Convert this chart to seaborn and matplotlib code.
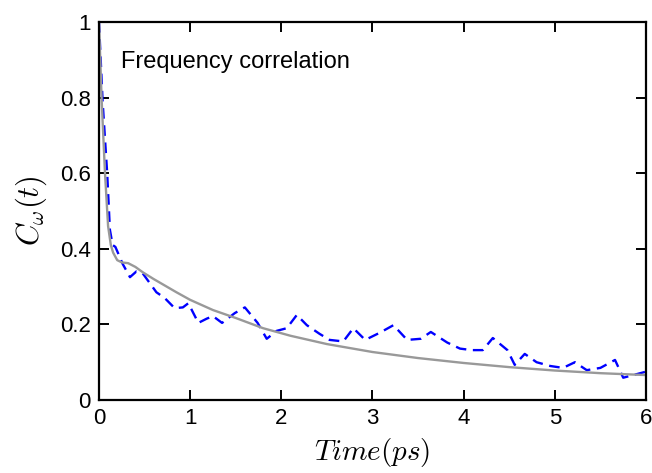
import pandas as pd
import matplotlib
matplotlib.use("Agg")
import matplotlib.pyplot as plt
import seaborn as sns

# ========== data ==========
# simulated frequency correlation (blue dashed)
sim_time = [0.0, 0.04, 0.09, 0.12, 0.15, 0.18, 0.26, 0.34, 0.41, 0.48,
            0.63, 0.72, 0.83, 0.92, 0.98, 1.09, 1.18, 1.25, 1.35, 1.49,
            1.6, 1.74, 1.84, 1.95, 2.06, 2.17, 2.28, 2.42, 2.53, 2.68,
            2.79, 2.92, 3.08, 3.23, 3.38, 3.53, 3.64, 3.82, 3.96, 4.09,
            4.21, 4.32, 4.48, 4.56, 4.67, 4.8, 4.95, 5.09, 5.22, 5.35,
            5.5, 5.66, 5.75, 5.86, 6.0]
sim_corr = [1.0, 0.79, 0.60, 0.45, 0.41, 0.405, 0.36, 0.325, 0.34, 0.335,
            0.285, 0.27, 0.243, 0.245, 0.256, 0.204, 0.215, 0.222, 0.204, 0.23,
            0.245, 0.204, 0.162, 0.183, 0.19, 0.225, 0.198, 0.175, 0.159, 0.155,
            0.19, 0.159, 0.178, 0.198, 0.159, 0.162, 0.18, 0.152, 0.136, 0.132,
            0.132, 0.164, 0.132, 0.093, 0.122, 0.1, 0.09, 0.085, 0.1, 0.079,
            0.085, 0.106, 0.059, 0.066, 0.075]

# fitted curve (gray)
fit_time = [0.0, 0.03, 0.066, 0.1, 0.13, 0.155, 0.2, 0.25, 0.32, 0.4,
            0.48, 0.6, 0.7, 0.85, 1.0, 1.25, 1.5, 1.8, 2.1, 2.5,
            3.0, 3.5, 4.0, 4.5, 5.0, 5.5, 6.0]
fit_corr = [1.0, 0.79, 0.6, 0.46, 0.41, 0.39, 0.37, 0.364, 0.362, 0.352,
            0.338, 0.32, 0.306, 0.285, 0.265, 0.238, 0.217, 0.19, 0.17, 0.148,
            0.127, 0.111, 0.098, 0.087, 0.078, 0.071, 0.066]

x_ticks = [0, 1, 2, 3, 4, 5, 6]
y_ticks = [0, 0.2, 0.4, 0.6, 0.8, 1]
y_tick_labels = ["0", "0.2", "0.4", "0.6", "0.8", "1"]

sim = pd.DataFrame({"t": sim_time, "c": sim_corr})
fit = pd.DataFrame({"t": fit_time, "c": fit_corr})

# ========== style ==========
sns.set_theme(style="ticks")
plt.rcParams["font.family"] = ["Liberation Sans", "DejaVu Sans"]
plt.rcParams["mathtext.fontset"] = "cm"
plt.rcParams["text.color"] = "black"
plt.rcParams["axes.labelcolor"] = "black"

fig = plt.figure(figsize=(6.52, 4.73), dpi=100)
ax = fig.add_axes([0.1518, 0.1543, 0.839, 0.7992])

sns.lineplot(data=sim, x="t", y="c", ax=ax, color="#0000ff", lw=1.7,
             sort=False)
ax.lines[-1].set_dashes([4.5, 2.8])
sns.lineplot(data=fit, x="t", y="c", ax=ax, color="#999999", lw=1.7, sort=False)

ax.set_xlim(0, 6)
ax.set_ylim(0, 1)
ax.set_xticks(x_ticks)
ax.set_xticklabels([str(v) for v in x_ticks])
ax.set_yticks(y_ticks)
ax.set_yticklabels(y_tick_labels)
ax.tick_params(direction="in", length=7, width=1.4, top=True, right=True,
               labelsize=16, colors="black", pad=6)
for s in ax.spines.values():
    s.set_linewidth(1.6)
    s.set_color("black")

ax.set_xlabel(r"$Time(ps)$", fontsize=21, labelpad=5)
ax.set_ylabel(r"$C_{\omega}(t)$", fontsize=22, labelpad=8)
ax.text(0.04, 0.895, "Frequency correlation", transform=ax.transAxes,
        fontsize=17, ha="left", va="center", color="black")

plt.savefig("out.png", dpi=100)
